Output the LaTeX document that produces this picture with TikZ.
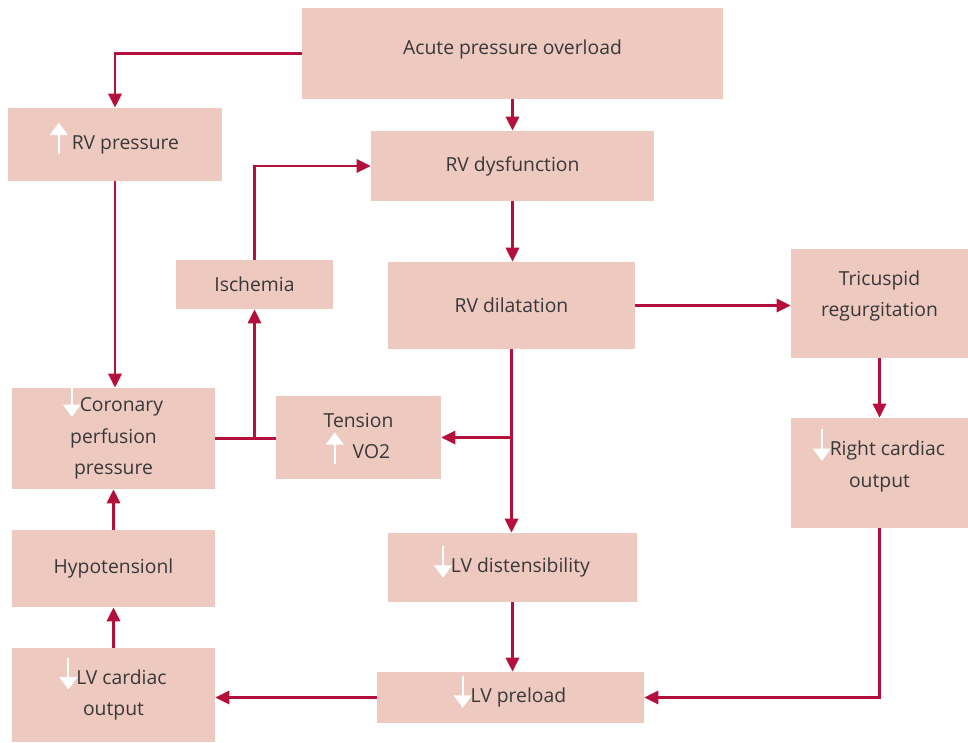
\documentclass[tikz,border=0pt]{standalone}
\usepackage{fontspec}
\setmainfont{Open Sans}
\usetikzlibrary{arrows.meta}
\definecolor{boxpink}{HTML}{EEC9C0}
\definecolor{crimson}{HTML}{B5103C}
\definecolor{txtgray}{HTML}{383838}
% white up / down marks inside the box texts
\newcommand{\upmark}{\tikz[baseline=0pt]{\useasboundingbox (-4.5pt,-2pt) rectangle (4.5pt,7pt);
  \draw[white,line width=1.2pt,-{Triangle[width=10pt,length=7pt]}] (0,-3pt) -- (0,15pt);}}
\newcommand{\dnmark}{\tikz[baseline=0pt]{\useasboundingbox (-4.5pt,-2pt) rectangle (4.5pt,7pt);
  \draw[white,line width=1.2pt,-{Triangle[width=10pt,length=7pt]}] (0,15pt) -- (0,-3pt);}}
\tikzset{
  box/.style={fill=boxpink,inner sep=2pt,align=center,text=txtgray,font=\fontsize{11}{18}\selectfont},
  link/.style={draw=crimson,line width=1.5pt,-{Triangle[length=8pt,width=7.5pt]}},
  plain/.style={draw=crimson,line width=1.5pt}
}
\begin{document}
\begin{tikzpicture}[x=0.02cm,y=-0.02cm]
\useasboundingbox (0,0) rectangle (968,743);
\node[box,minimum width=8.42cm,minimum height=1.82cm] (acute) at (512.5,53.5) {Acute pressure overload\\[-11pt]};
\node[box,minimum width=4.28cm,minimum height=1.46cm] (rvp) at (115,144.5) {\upmark\ RV pressure};
\node[box,minimum width=5.66cm,minimum height=1.40cm] (rvd) at (512.5,166) {RV dysfunction};
\node[box,minimum width=3.14cm,minimum height=0.98cm] (isch) at (254.5,284.5) {Ischemia};
\node[box,minimum width=4.94cm,minimum height=1.74cm] (dil) at (511.5,305.5) {RV dilatation};
\node[box,minimum width=3.54cm,minimum height=2.18cm] (tric) at (879.5,303.5) {Tricuspid\\regurgitation\\[-7pt]};
\node[box,minimum width=4.06cm,minimum height=2.02cm] (cor) at (113.5,438.5) {\dnmark Coronary\\perfusion\\pressure};
\node[box,minimum width=3.30cm,minimum height=1.66cm] (tens) at (358.5,437.5) {Tension\\\upmark\ \ VO2};
\node[box,minimum width=3.54cm,minimum height=2.20cm] (rco) at (879.5,473) {\dnmark Right cardiac\\output\\[-8pt]};
\node[box,minimum width=4.06cm,minimum height=1.54cm] (hyp) at (113.5,568.5) {Hypotensionl};
\node[box,minimum width=4.98cm,minimum height=1.38cm] (lvd) at (512.5,567.5) {\dnmark LV distensibility};
\node[box,minimum width=4.06cm,minimum height=1.88cm] (lvco) at (113.5,695) {\dnmark LV cardiac\\output};
\node[box,minimum width=5.34cm,minimum height=1.02cm] (pre) at (510.5,697.5) {\dnmark LV preload};
% connectors
\draw[link] (acute.west) -| (rvp.north);
\draw[link] (acute.south) -- (rvd.north);
\draw[link] (rvp.south) -- (rvp.south |- cor.north);
\draw[plain] (cor.east) -- (cor.east -| tens.west);
\draw[link] (isch.south |- cor.east) -- (isch.south);
\draw[link] (isch.north) |- (rvd.west);
\draw[link] (rvd.south) -- (rvd.south |- dil.north);
\draw[link] (dil.east) -- (dil.east -| tric.west);
\draw[link] (dil.south) -- (dil.south |- lvd.north);
\draw[link] (dil.south |- tens.east) -- (tens.east);
\draw[link] (tric.south) -- (rco.north);
\draw[link] (rco.south) |- (pre.east);
\draw[link] (lvd.south) -- (lvd.south |- pre.north);
\draw[link] (pre.west) -- (pre.west -| lvco.east);
\draw[link] (lvco.north) -- (hyp.south);
\draw[link] (hyp.north) -- (cor.south);
\end{tikzpicture}
\end{document}
